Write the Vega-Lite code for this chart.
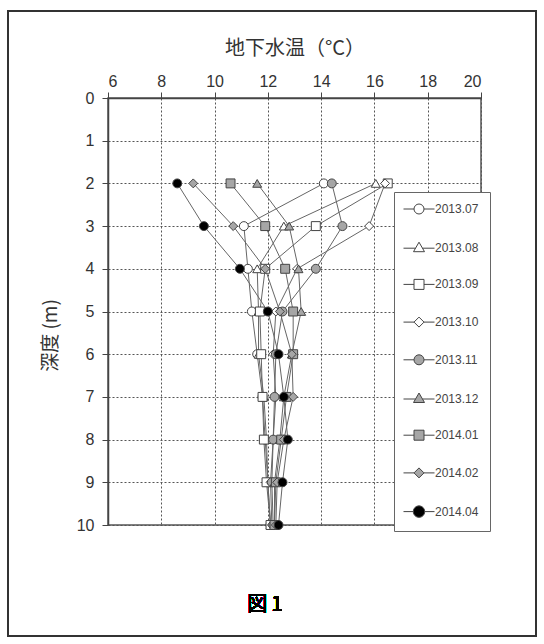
{
  "$schema": "https://vega.github.io/schema/vega-lite/v6.json",
  "width": 373,
  "height": 427,
  "padding": {"left": 7, "top": 10, "right": 0, "bottom": 0},
  "background": "white",
  "config": {
    "view": {"stroke": "#555", "strokeWidth": 1.5},
    "axis": {
      "labelFont": "Liberation Sans",
      "labelFontSize": 16,
      "labelColor": "#333",
      "titleFont": "Noto Sans CJK JP",
      "titleFontSize": 20,
      "titleFontWeight": "normal",
      "titleColor": "#333",
      "domainColor": "#444",
      "domainWidth": 1.5,
      "tickColor": "#444",
      "tickSize": 6,
      "gridColor": "#555",
      "gridDash": [2, 2],
      "gridWidth": 1
    },
    "legend": {
      "labelFont": "Liberation Sans",
      "labelFontSize": 12,
      "labelColor": "#444"
    }
  },
  "data": {
    "values": [
      {"series": "2013.07", "depth": 2, "temp": 14.1},
      {"series": "2013.07", "depth": 3, "temp": 11.1},
      {"series": "2013.07", "depth": 4, "temp": 11.25},
      {"series": "2013.07", "depth": 5, "temp": 11.4},
      {"series": "2013.07", "depth": 6, "temp": 11.6},
      {"series": "2013.07", "depth": 7, "temp": 11.8},
      {"series": "2013.07", "depth": 8, "temp": 11.9},
      {"series": "2013.07", "depth": 9, "temp": 12.0},
      {"series": "2013.07", "depth": 10, "temp": 12.1},
      {"series": "2013.08", "depth": 2, "temp": 16.05},
      {"series": "2013.08", "depth": 3, "temp": 12.6},
      {"series": "2013.08", "depth": 4, "temp": 11.6},
      {"series": "2013.08", "depth": 5, "temp": 11.65},
      {"series": "2013.08", "depth": 6, "temp": 11.65},
      {"series": "2013.08", "depth": 7, "temp": 11.85},
      {"series": "2013.08", "depth": 8, "temp": 11.95},
      {"series": "2013.08", "depth": 9, "temp": 12.0},
      {"series": "2013.08", "depth": 10, "temp": 12.1},
      {"series": "2013.09", "depth": 2, "temp": 16.5},
      {"series": "2013.09", "depth": 3, "temp": 13.8},
      {"series": "2013.09", "depth": 4, "temp": 11.9},
      {"series": "2013.09", "depth": 5, "temp": 11.7},
      {"series": "2013.09", "depth": 6, "temp": 11.75},
      {"series": "2013.09", "depth": 7, "temp": 11.8},
      {"series": "2013.09", "depth": 8, "temp": 11.85},
      {"series": "2013.09", "depth": 9, "temp": 11.95},
      {"series": "2013.09", "depth": 10, "temp": 12.1},
      {"series": "2013.10", "depth": 2, "temp": 16.4},
      {"series": "2013.10", "depth": 3, "temp": 15.8},
      {"series": "2013.10", "depth": 4, "temp": 13.1},
      {"series": "2013.10", "depth": 5, "temp": 12.3},
      {"series": "2013.10", "depth": 6, "temp": 12.2},
      {"series": "2013.10", "depth": 7, "temp": 12.3},
      {"series": "2013.10", "depth": 8, "temp": 12.2},
      {"series": "2013.10", "depth": 9, "temp": 12.1},
      {"series": "2013.10", "depth": 10, "temp": 12.15},
      {"series": "2013.11", "depth": 2, "temp": 14.4},
      {"series": "2013.11", "depth": 3, "temp": 14.8},
      {"series": "2013.11", "depth": 4, "temp": 13.8},
      {"series": "2013.11", "depth": 5, "temp": 12.55},
      {"series": "2013.11", "depth": 6, "temp": 12.3},
      {"series": "2013.11", "depth": 7, "temp": 12.25},
      {"series": "2013.11", "depth": 8, "temp": 12.2},
      {"series": "2013.11", "depth": 9, "temp": 12.15},
      {"series": "2013.11", "depth": 10, "temp": 12.2},
      {"series": "2013.12", "depth": 2, "temp": 11.6},
      {"series": "2013.12", "depth": 3, "temp": 12.8},
      {"series": "2013.12", "depth": 4, "temp": 13.15},
      {"series": "2013.12", "depth": 5, "temp": 13.25},
      {"series": "2013.12", "depth": 6, "temp": 12.9},
      {"series": "2013.12", "depth": 7, "temp": 12.6},
      {"series": "2013.12", "depth": 8, "temp": 12.45},
      {"series": "2013.12", "depth": 9, "temp": 12.25},
      {"series": "2013.12", "depth": 10, "temp": 12.25},
      {"series": "2014.01", "depth": 2, "temp": 10.6},
      {"series": "2014.01", "depth": 3, "temp": 11.9},
      {"series": "2014.01", "depth": 4, "temp": 12.65},
      {"series": "2014.01", "depth": 5, "temp": 12.95},
      {"series": "2014.01", "depth": 6, "temp": 12.95},
      {"series": "2014.01", "depth": 7, "temp": 12.7},
      {"series": "2014.01", "depth": 8, "temp": 12.5},
      {"series": "2014.01", "depth": 9, "temp": 12.3},
      {"series": "2014.01", "depth": 10, "temp": 12.25},
      {"series": "2014.02", "depth": 2, "temp": 9.2},
      {"series": "2014.02", "depth": 3, "temp": 10.7},
      {"series": "2014.02", "depth": 4, "temp": 11.9},
      {"series": "2014.02", "depth": 5, "temp": 12.45},
      {"series": "2014.02", "depth": 6, "temp": 12.9},
      {"series": "2014.02", "depth": 7, "temp": 12.95},
      {"series": "2014.02", "depth": 8, "temp": 12.6},
      {"series": "2014.02", "depth": 9, "temp": 12.35},
      {"series": "2014.02", "depth": 10, "temp": 12.3},
      {"series": "2014.04", "depth": 2, "temp": 8.6},
      {"series": "2014.04", "depth": 3, "temp": 9.6},
      {"series": "2014.04", "depth": 4, "temp": 10.95},
      {"series": "2014.04", "depth": 5, "temp": 12.0},
      {"series": "2014.04", "depth": 6, "temp": 12.4},
      {"series": "2014.04", "depth": 7, "temp": 12.6},
      {"series": "2014.04", "depth": 8, "temp": 12.75},
      {"series": "2014.04", "depth": 9, "temp": 12.55},
      {"series": "2014.04", "depth": 10, "temp": 12.4}
    ]
  },
  "layer": [
    {
      "mark": {"type": "line", "color": "#666", "strokeWidth": 1},
      "encoding": {
        "x": {
          "field": "temp", "type": "quantitative",
          "scale": {"domain": [6, 20], "nice": false, "zero": false},
          "axis": {"orient": "top", "values": [6, 8, 10, 12, 14, 16, 18, 20], "title": "地下水温（°C）", "labelPadding": 3, "titlePadding": 15}
        },
        "y": {
          "field": "depth", "type": "quantitative",
          "scale": {"domain": [0, 10], "nice": false, "reverse": true},
          "axis": {"values": [0, 1, 2, 3, 4, 5, 6, 7, 8, 9, 10], "title": "深度 (m)", "titleFontSize": 19, "labelPadding": 8, "titleX": -48, "titleY": 237}
        },
        "detail": {"field": "series"},
        "order": {"field": "depth"}
      }
    },
    {
      "mark": {"type": "point", "filled": true, "stroke": "#444", "strokeWidth": 1, "size": 80, "opacity": 1},
      "encoding": {
        "x": {"field": "temp", "type": "quantitative"},
        "y": {"field": "depth", "type": "quantitative"},
        "shape": {
          "field": "series", "type": "nominal", "legend": null,
          "scale": {"domain": ["2013.07", "2013.08", "2013.09", "2013.10", "2013.11", "2013.12", "2014.01", "2014.02", "2014.04"],
                    "range": ["circle", "triangle-up", "square", "diamond", "circle", "triangle-up", "square", "diamond", "circle"]}
        },
        "fill": {
          "field": "series", "type": "nominal", "legend": null,
          "scale": {"domain": ["2013.07", "2013.08", "2013.09", "2013.10", "2013.11", "2013.12", "2014.01", "2014.02", "2014.04"],
                    "range": ["#ffffff", "#ffffff", "#ffffff", "#ffffff", "#a6a6a6", "#a6a6a6", "#a6a6a6", "#a6a6a6", "#000000"]}
        }
      }
    },
    {
      "mark": {"type": "point", "filled": true, "strokeWidth": 1, "size": 49, "opacity": 0},
      "encoding": {
        "x": {"field": "temp", "type": "quantitative"},
        "y": {"field": "depth", "type": "quantitative"},
        "shape": {
          "field": "series", "type": "nominal",
          "scale": {"domain": ["2013.07", "2013.08", "2013.09", "2013.10", "2013.11", "2013.12", "2014.01", "2014.02", "2014.04"],
                    "range": [
                      "M-3.1,0H-1M1,0H3.1M-1,0A1,1,0,1,1,1,0A1,1,0,1,1,-1,0Z",
                      "M-3.1,0.1H-0.7M0.7,0.1H3.1M0,-1.1L1.1,0.8L-1.1,0.8Z",
                      "M-3.1,0H-1M1,0H3.1M-1,-1H1V1H-1Z",
                      "M-3.1,0H-1M1,0H3.1M0,-1L1,0L0,1L-1,0Z",
                      "M-3.1,0H-1M1,0H3.1M-1,0A1,1,0,1,1,1,0A1,1,0,1,1,-1,0Z",
                      "M-3.1,0.1H-0.7M0.7,0.1H3.1M0,-1.1L1.1,0.8L-1.1,0.8Z",
                      "M-3.1,0H-1M1,0H3.1M-1,-1H1V1H-1Z",
                      "M-3.1,0H-1M1,0H3.1M0,-1L1,0L0,1L-1,0Z",
                      "M-3.1,0H-1.15M1.15,0H3.1M-1.15,0A1.15,1.15,0,1,1,1.15,0A1.15,1.15,0,1,1,-1.15,0Z"
                    ]},
          "legend": {
            "title": null, "orient": "none", "legendX": 286, "legendY": 94,
            "padding": 11, "rowPadding": 23.7, "labelOffset": 10, "symbolOffset": 8,
            "fillColor": "white", "strokeColor": "#666",
            "symbolStrokeWidth": 1, "symbolOpacity": 1
          }
        },
        "fill": {
          "field": "series", "type": "nominal",
          "scale": {"domain": ["2013.07", "2013.08", "2013.09", "2013.10", "2013.11", "2013.12", "2014.01", "2014.02", "2014.04"],
                    "range": ["#ffffff", "#ffffff", "#ffffff", "#ffffff", "#a6a6a6", "#a6a6a6", "#a6a6a6", "#a6a6a6", "#000000"]},
          "legend": {
            "title": null, "orient": "none", "legendX": 286, "legendY": 94,
            "padding": 11, "rowPadding": 23.7, "labelOffset": 10, "symbolOffset": 8,
            "fillColor": "white", "strokeColor": "#666",
            "symbolStrokeWidth": 1, "symbolOpacity": 1
          }
        },
        "stroke": {
          "field": "series", "type": "nominal",
          "scale": {"domain": ["2013.07", "2013.08", "2013.09", "2013.10", "2013.11", "2013.12", "2014.01", "2014.02", "2014.04"],
                    "range": ["#444444", "#444444", "#444444", "#444444", "#444444", "#444444", "#444444", "#444444", "#444444"]},
          "legend": {
            "title": null, "orient": "none", "legendX": 286, "legendY": 94,
            "padding": 11, "rowPadding": 23.7, "labelOffset": 10, "symbolOffset": 8,
            "fillColor": "white", "strokeColor": "#666",
            "symbolStrokeWidth": 1, "symbolOpacity": 1
          }
        }
      }
    },
    {
      "mark": {"type": "rect", "fill": null, "stroke": "#333", "strokeWidth": 1.5, "clip": false},
      "encoding": {
        "x": {"datum": 2.2462},
        "x2": {"datum": 22.066},
        "y": {"datum": -2.037},
        "y2": {"datum": 12.6}
      }
    },
    {
      "mark": {"type": "text", "text": "図 1", "font": "Noto Sans CJK JP", "fontSize": 20, "fontWeight": "normal", "color": "#000", "align": "center", "baseline": "middle"},
      "encoding": {
        "x": {"datum": 11.89},
        "y": {"datum": 11.87}
      }
    }
  ],
  "resolve": {"scale": {"shape": "independent", "fill": "independent", "stroke": "independent"}}
}
